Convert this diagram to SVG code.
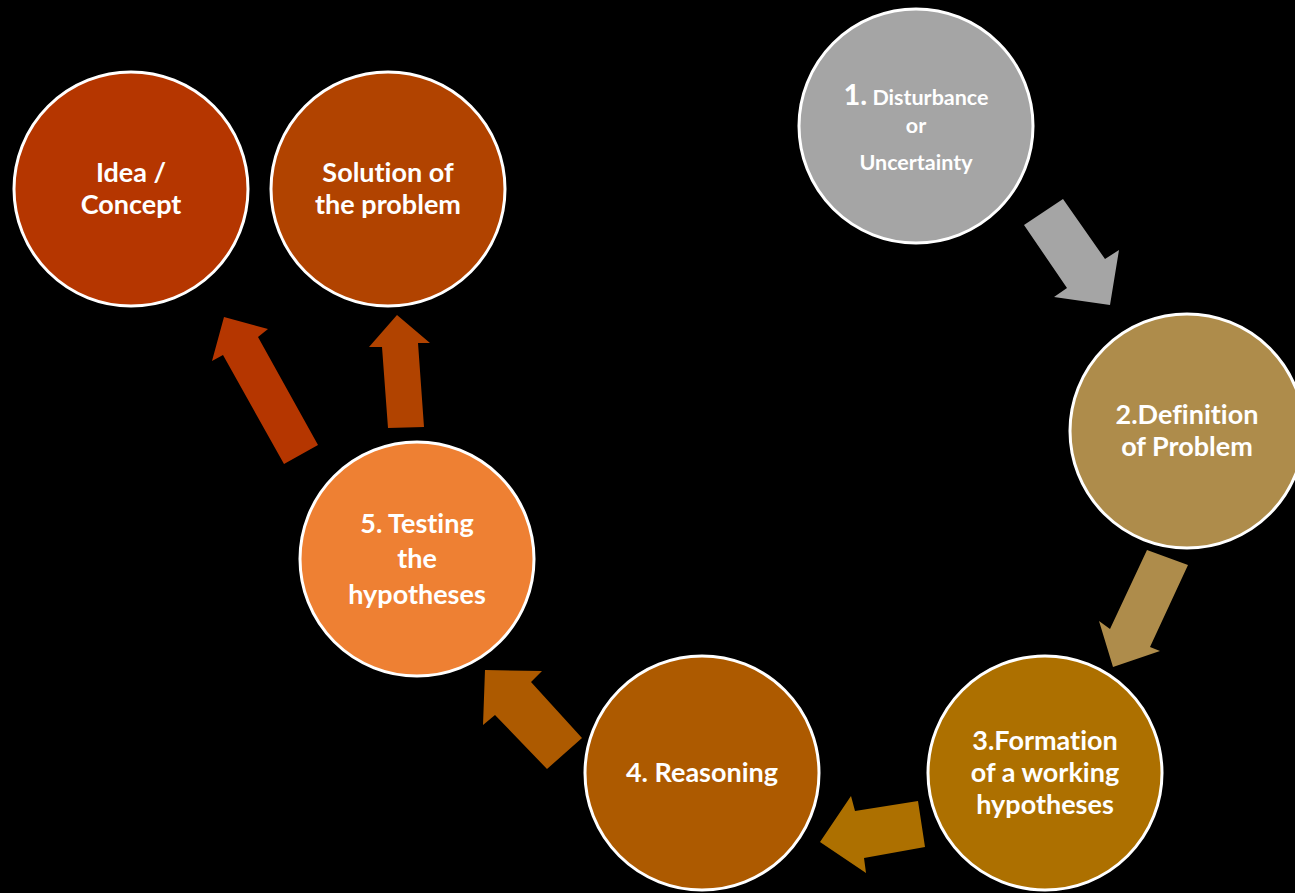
<svg xmlns="http://www.w3.org/2000/svg" width="1295" height="893" viewBox="0 0 1295 893">
<style>
.n{stroke:#fff;stroke-width:3}
text{font-family:Lato,"Liberation Sans",sans-serif;font-weight:bold;fill:#fff;text-anchor:middle;font-size:27px;font-variant-ligatures:none}
.s{font-size:21.5px}
.b{font-size:29px}
</style>
<rect width="1295" height="893" fill="#000"/>
<g id="connectors">
<polygon points="1024,225 1063,199 1105,259 1119,250 1110,305 1054,297 1067,288" fill="#a5a5a5"/>
<polygon points="1147,550 1188,565 1150,647 1160,651 1113,667 1099,621 1110,629" fill="#ae8c4b"/>
<polygon points="820,842 851,796 855,811 918,801 925,847 864,858 866,873" fill="#ad7000"/>
<polygon points="485,670 542,671 531,682 582,738 547,769 495,715 483,725" fill="#ad5a00"/>
<polygon points="224,317 268,329 258,337 318,445 284,464 223,355 212,361" fill="#b53600"/>
<polygon points="397,315 430,343 418,343 424,427 388,428 382,347 369,347" fill="#b14300"/>
</g>
<g id="n1"><circle class="n" cx="916" cy="126" r="117" fill="#a5a5a5"/>
<text x="916" y="105"><tspan class="b">1.</tspan><tspan class="s"> Disturbance</tspan></text>
<text class="s" x="916" y="133">or</text>
<text class="s" x="916" y="170">Uncertainty</text></g>
<g id="n2"><circle class="n" cx="1187" cy="431" r="117" fill="#ae8c4b"/>
<text x="1187" y="424">2.Definition</text>
<text x="1187" y="456">of Problem</text></g>
<g id="n3"><circle class="n" cx="1045" cy="773" r="117" fill="#ad7000"/>
<text x="1045" y="750">3.Formation</text>
<text x="1045" y="782">of a working</text>
<text x="1045" y="814">hypotheses</text></g>
<g id="n4"><circle class="n" cx="702" cy="773" r="117" fill="#ad5a00"/>
<text x="702" y="782">4. Reasoning</text></g>
<g id="n5"><circle class="n" cx="417" cy="559" r="117" fill="#ee8033"/>
<text x="417" y="533">5. Testing</text>
<text x="417" y="568">the</text>
<text x="417" y="604">hypotheses</text></g>
<g id="n6"><circle class="n" cx="131" cy="189" r="117" fill="#b53600"/>
<text x="131" y="182">Idea /</text>
<text x="131" y="214">Concept</text></g>
<g id="n7"><circle class="n" cx="388" cy="189" r="117" fill="#b14300"/>
<text x="388" y="182">Solution of</text>
<text x="388" y="214">the problem</text></g>
</svg>
